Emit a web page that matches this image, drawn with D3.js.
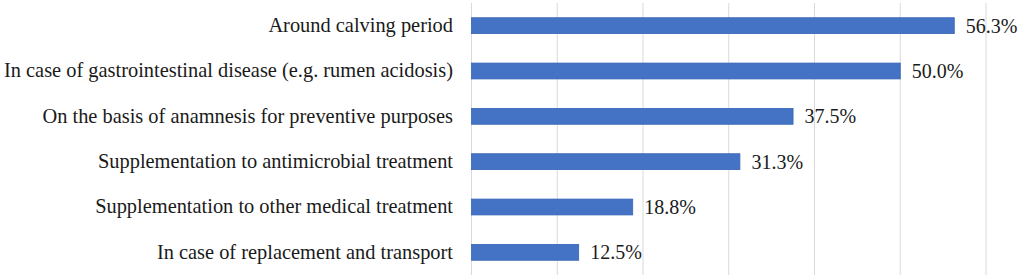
<!DOCTYPE html>
<html><head><meta charset="utf-8">
<script src="https://cdn.jsdelivr.net/npm/d3@7"></script>
<style>body{margin:0;background:#fff}svg{display:block}
text{font-family:"Times New Roman","Liberation Serif",serif}</style>
</head><body>
<script>
const categories = [
  "Around calving period",
  "In case of gastrointestinal disease (e.g. rumen acidosis)",
  "On the basis of anamnesis for preventive purposes",
  "Supplementation to antimicrobial treatment",
  "Supplementation to other medical treatment",
  "In case of replacement and transport"
];
const values = [56.3, 50.0, 37.5, 31.3, 18.8, 12.5];
const ticks = [0, 10, 20, 30, 40, 50, 60];

const W = 1021, H = 280;
const svg = d3.select("body").append("svg").attr("width", W).attr("height", H);
const x = d3.scaleLinear().domain([0, 60]).range([471.5, 986]);
const y = d3.scaleBand().domain(categories).range([3, 275]).paddingInner(0.65).paddingOuter(0.325);

svg.append("g").selectAll("line").data(ticks).join("line")
  .attr("x1", d => x(d)).attr("x2", d => x(d))
  .attr("y1", 3).attr("y2", 275)
  .attr("stroke", "#d9d9d9").attr("stroke-width", 1);

svg.append("g").selectAll("rect").data(values).join("rect")
  .attr("x", x(0)).attr("y", (d, i) => y(categories[i]))
  .attr("width", d => x(d) - x(0)).attr("height", y.bandwidth())
  .attr("fill", "#4472c4").attr("stroke", "#3a66b8").attr("stroke-width", 0.8);

svg.append("g").selectAll("text").data(values).join("text")
  .attr("x", d => x(d) + 11.5).attr("y", (d, i) => y(categories[i]) + y.bandwidth() / 2)
  .attr("dy", "0.35em").attr("font-size", 20).attr("fill", "#1a1a1a")
  .text(d => d.toFixed(1) + "%");

svg.append("g").selectAll("text").data(categories).join("text")
  .attr("x", 453).attr("y", d => y(d) + y.bandwidth() / 2)
  .attr("dy", "0.31em").attr("text-anchor", "end")
  .attr("font-size", 20.4).attr("fill", "#1a1a1a")
  .text(d => d);
</script>
</body></html>
